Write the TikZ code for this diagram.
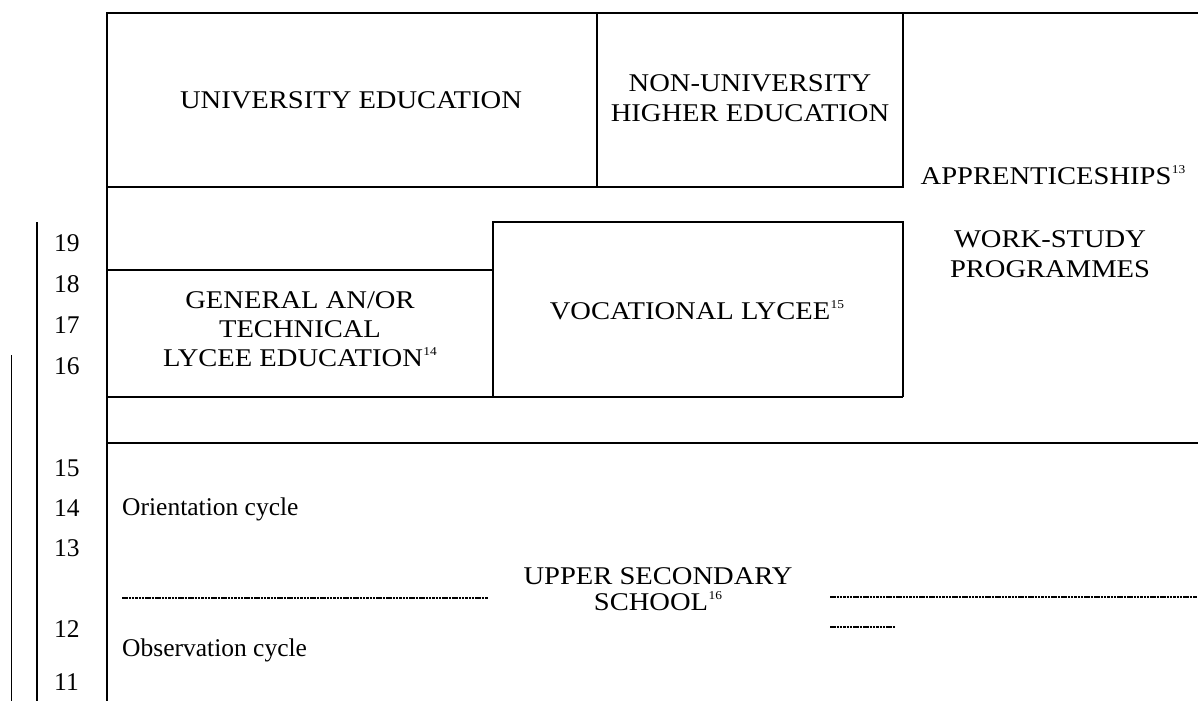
\documentclass[tikz,border=0pt]{standalone}
\usepackage{fontspec}
\setmainfont{Liberation Serif}
\newfontfamily\capsfont[FakeStretch=1.12]{Liberation Serif}
\newcommand\supnum[1]{\raisebox{0.42em}{\fontsize{12}{12}\selectfont\kern0.5pt#1}}
\begin{document}
\begin{tikzpicture}[x=1pt,y=-1pt,
  frame/.style={line width=1.7pt},
  thin rule/.style={line width=1.1pt,dash pattern=on 2.5pt off 0.8pt},
  lbl/.style={font=\capsfont\fontsize{25.5}{29.5}\selectfont,align=center,inner sep=0pt,anchor=base},
  age/.style={font=\fontsize{25.5}{29.5}\selectfont,anchor=base west,inner sep=0pt}]
\useasboundingbox (0,0) rectangle (1198,701);
% frame lines
\draw[frame] (1198,13) -- (107,13) -- (107,701);
\draw[frame] (597,13) -- (597,187);
\draw[frame] (107,187) -- (903,187) -- (903,13);
\draw[frame] (107,270) -- (493,270);
\draw[frame] (493,397) -- (493,222) -- (903,222) -- (903,397);
\draw[frame] (107,397) -- (903,397);
\draw[frame] (107,443) -- (1198,443);
% left bars
\draw[line width=2.8pt] (37,222) -- (37,701);
\draw[line width=1pt] (11,355) -- (11,701);
% dotted separators
\draw[thin rule] (122,598) -- (488,598);
\draw[thin rule] (830,597) -- (1197,597);
\draw[thin rule] (830,627) -- (895,627);
% labels (base = baseline of last line)
\node[lbl] (uni) at (351,108) {UNIVERSITY EDUCATION};
\node[lbl] (nonuni) at (750,121) {NON-UNIVERSITY\\HIGHER EDUCATION};
\node[lbl] (app) at (1053,184) {APPRENTICESHIPS\supnum{13}};
\node[lbl] (ws) at (1050,277) {WORK-STUDY\\PROGRAMMES};
\node[lbl,font=\capsfont\fontsize{25.5}{29}\selectfont] (gen) at (300,366) {GENERAL AN/OR\\TECHNICAL\\LYCEE EDUCATION\supnum{14}};
\node[lbl] (voc) at (697,319) {VOCATIONAL LYCEE\supnum{15}};
\node[lbl,font=\capsfont\fontsize{25.5}{26}\selectfont] (uss) at (658,610) {UPPER SECONDARY\\SCHOOL\supnum{16}};
\node[age] (orient) at (122,515) {Orientation cycle};
\node[age] (observ) at (122,656) {Observation cycle};
% ages
\node[age] (a19) at (54,251) {19};
\node[age] (a18) at (54,292) {18};
\node[age] (a17) at (54,333) {17};
\node[age] (a16) at (54,374) {16};
\node[age] (a15) at (54,476) {15};
\node[age] (a14) at (54,516) {14};
\node[age] (a13) at (54,556) {13};
\node[age] (a12) at (54,637) {12};
\node[age] (a11) at (54,690) {11};
\end{tikzpicture}
\end{document}
